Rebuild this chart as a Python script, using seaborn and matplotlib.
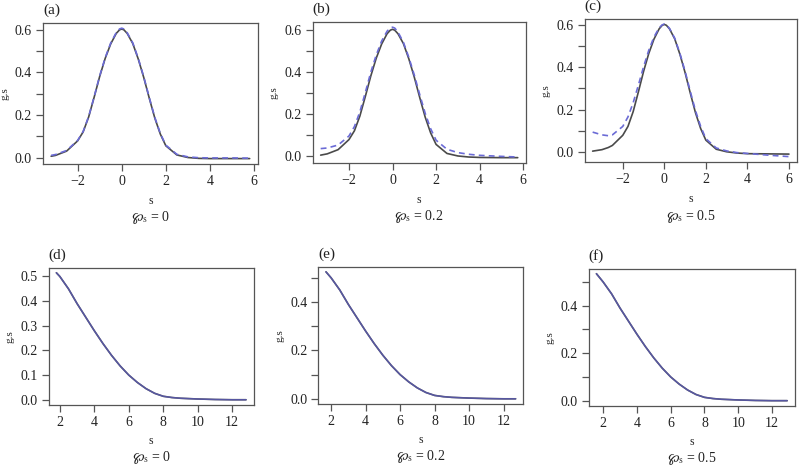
import numpy as np
import matplotlib
matplotlib.use("Agg")
import matplotlib.pyplot as plt
import seaborn as sns

# top row: s grid and curves (solid = true, dashed = estimate)
s_a = [-3.2, -3.0, -2.5, -2.0, -1.75, -1.5, -1.25, -1.0, -0.75, -0.5, -0.25, -0.1, 0.0, 0.1,
       0.25, 0.5, 0.75, 1.0, 1.25, 1.5, 1.75, 2.0, 2.5, 3.0, 3.5, 4.0, 5.0, 5.8]
solid_a = [0.006, 0.01, 0.03, 0.078, 0.12, 0.19, 0.283, 0.38, 0.465, 0.533, 0.582, 0.599, 0.603, 0.599,
           0.582, 0.535, 0.462, 0.375, 0.278, 0.185, 0.11, 0.055, 0.012, 0.0, -0.004, -0.005, -0.005, -0.005]
dash_a = [0.01, 0.014, 0.033, 0.08, 0.122, 0.192, 0.285, 0.383, 0.468, 0.537, 0.586, 0.603, 0.607, 0.603,
          0.585, 0.538, 0.465, 0.378, 0.281, 0.188, 0.113, 0.058, 0.015, 0.003, -0.001, -0.002, -0.002, -0.003]

s_b = [-3.3, -3.0, -2.5, -2.0, -1.75, -1.5, -1.25, -1.0, -0.75, -0.5, -0.25, -0.1, 0.0, 0.1,
       0.25, 0.5, 0.75, 1.0, 1.25, 1.5, 1.75, 2.0, 2.5, 3.0, 3.5, 4.0, 5.0, 5.75]
solid_b = [0.004, 0.01, 0.03, 0.078, 0.12, 0.19, 0.283, 0.38, 0.465, 0.533, 0.582, 0.599, 0.603, 0.599,
           0.582, 0.535, 0.462, 0.375, 0.278, 0.185, 0.11, 0.055, 0.012, 0.0, -0.005, -0.007, -0.008, -0.008]
dash_b = [0.035, 0.038, 0.052, 0.095, 0.14, 0.21, 0.302, 0.398, 0.48, 0.547, 0.594, 0.61, 0.613, 0.609,
          0.59, 0.541, 0.469, 0.385, 0.292, 0.203, 0.13, 0.075, 0.032, 0.016, 0.008, 0.003, -0.002, -0.005]

s_c = [-3.45, -3.0, -2.7, -2.5, -2.0, -1.75, -1.5, -1.25, -1.0, -0.75, -0.5, -0.25, -0.1, 0.0, 0.1,
       0.25, 0.5, 0.75, 1.0, 1.25, 1.5, 1.75, 2.0, 2.5, 3.0, 3.5, 4.0, 5.0, 6.0]
solid_c = [0.003, 0.01, 0.02, 0.03, 0.078, 0.12, 0.19, 0.283, 0.38, 0.465, 0.533, 0.582, 0.599, 0.603, 0.599,
           0.582, 0.535, 0.462, 0.375, 0.278, 0.185, 0.11, 0.055, 0.012, 0.0, -0.006, -0.009, -0.01, -0.011]
dash_c = [0.093, 0.08, 0.076, 0.08, 0.12, 0.165, 0.232, 0.315, 0.402, 0.48, 0.543, 0.587, 0.601, 0.605, 0.601,
          0.584, 0.538, 0.466, 0.381, 0.286, 0.195, 0.12, 0.062, 0.018, 0.004, -0.004, -0.008, -0.016, -0.023]

# bottom row
s_d = [1.8, 2.0, 2.5, 3.0, 3.5, 4.0, 4.5, 5.0, 5.5, 6.0, 6.5, 7.0, 7.5, 8.0, 8.5, 9.0, 10.0, 11.0, 12.0, 12.8]
g_d = [0.515, 0.50, 0.45, 0.39, 0.335, 0.28, 0.228, 0.18, 0.137, 0.10, 0.07, 0.045, 0.026, 0.014,
       0.009, 0.006, 0.003, 0.001, 0.0, 0.0]
s_e = [1.7, 2.0, 2.5, 3.0, 3.5, 4.0, 4.5, 5.0, 5.5, 6.0, 6.5, 7.0, 7.5, 8.0, 8.5, 9.0, 10.0, 11.0, 12.0, 12.7]
g_e = [0.525, 0.50, 0.45, 0.39, 0.335, 0.28, 0.228, 0.18, 0.137, 0.10, 0.07, 0.045, 0.026, 0.014,
       0.009, 0.006, 0.003, 0.001, 0.0, 0.0]
s_f = [1.6, 2.0, 2.5, 3.0, 3.5, 4.0, 4.5, 5.0, 5.5, 6.0, 6.5, 7.0, 7.5, 8.0, 8.5, 9.0, 10.0, 11.0, 12.0, 12.9]
g_f = [0.535, 0.50, 0.45, 0.39, 0.335, 0.28, 0.228, 0.18, 0.137, 0.10, 0.07, 0.045, 0.026, 0.014,
       0.009, 0.006, 0.003, 0.001, 0.0, 0.0]

panel_tags = ["(a)", "(b)", "(c)", "(d)", "(e)", "(f)"]
rho_vals = ["0", "0.2", "0.5", "0", "0.2", "0.5"]

sns.set_style("ticks")
plt.rcParams['font.family'] = ['Liberation Serif', 'DejaVu Serif']
plt.rcParams['mathtext.fontset'] = 'stix'

fig = plt.figure(figsize=(8, 4.68), dpi=100)
rects = [
    [0.054, 0.650, 0.268, 0.301],
    [0.391, 0.652, 0.266, 0.301],
    [0.731, 0.654, 0.265, 0.306],
    [0.061, 0.135, 0.256, 0.293],
    [0.398, 0.137, 0.256, 0.293],
    [0.736, 0.133, 0.2575, 0.293],
]
series = [
    (s_a, solid_a, dash_a), (s_b, solid_b, dash_b), (s_c, solid_c, dash_c),
    (s_d, g_d, g_d), (s_e, g_e, g_e), (s_f, g_f, g_f),
]

solid_col = "#4a4a4a"
dash_col = "#6b6bd6"

for i, (rect, (x, y1, y2)) in enumerate(zip(rects, series)):
    ax = fig.add_axes(rect)
    sns.lineplot(x=x, y=y1, ax=ax, color=solid_col, linewidth=1.2, sort=False)
    if i < 3:
        sns.lineplot(x=x, y=y2, ax=ax, color=dash_col, linewidth=1.2, sort=False,
                     linestyle=(0, (3.5, 2.5)))
    else:
        sns.lineplot(x=x, y=y2, ax=ax, color="#5a5ab8", linewidth=1.1, sort=False, alpha=0.8)
    ax.margins(x=0.04, y=0.04)

    if i < 3:
        ax.set_xticks([-2, 0, 2, 4, 6])
        ax.set_xticklabels(["\u22122", "0", "2", "4", "6"])
        yt = [0.0, 0.1, 0.2, 0.3, 0.4, 0.5, 0.6]
        ax.set_yticks(yt)
        ax.set_yticklabels([f"{v:.1f}" if k % 2 == 0 else "" for k, v in enumerate(yt)])
    else:
        ax.set_xticks([2, 4, 6, 8, 10, 12])
        yt = [0.0, 0.1, 0.2, 0.3, 0.4, 0.5]
        ax.set_yticks(yt)
        if i == 3:
            ax.set_yticklabels([f"{v:.1f}" for v in yt])
        else:
            ax.set_yticklabels([f"{v:.1f}" if k % 2 == 0 else "" for k, v in enumerate(yt)])

    for sp in ax.spines.values():
        sp.set_visible(True)
        sp.set_color("#555555")
        sp.set_linewidth(0.9)
    ax.tick_params(direction="out", length=5, width=0.9, color="#555555",
                   labelsize=10, pad=3, labelcolor="#222222")
    ax.set_xlabel("")
    ax.set_ylabel("g.s", fontsize=8, labelpad=4, color="#222222")

    ax.text(0.0, 1.04, panel_tags[i], transform=ax.transAxes, ha="left", va="bottom",
            fontsize=11, color="#222222")
    ax.text(0.5, -0.22, "s", transform=ax.transAxes, ha="center", va="top",
            fontsize=8.5, color="#222222")
    ax.text(0.5, -0.32, r"$\wp_{\mathrm{s}}$ = " + rho_vals[i], transform=ax.transAxes,
            ha="center", va="top", fontsize=10, color="#222222")

fig.savefig("out.png", dpi=100)
